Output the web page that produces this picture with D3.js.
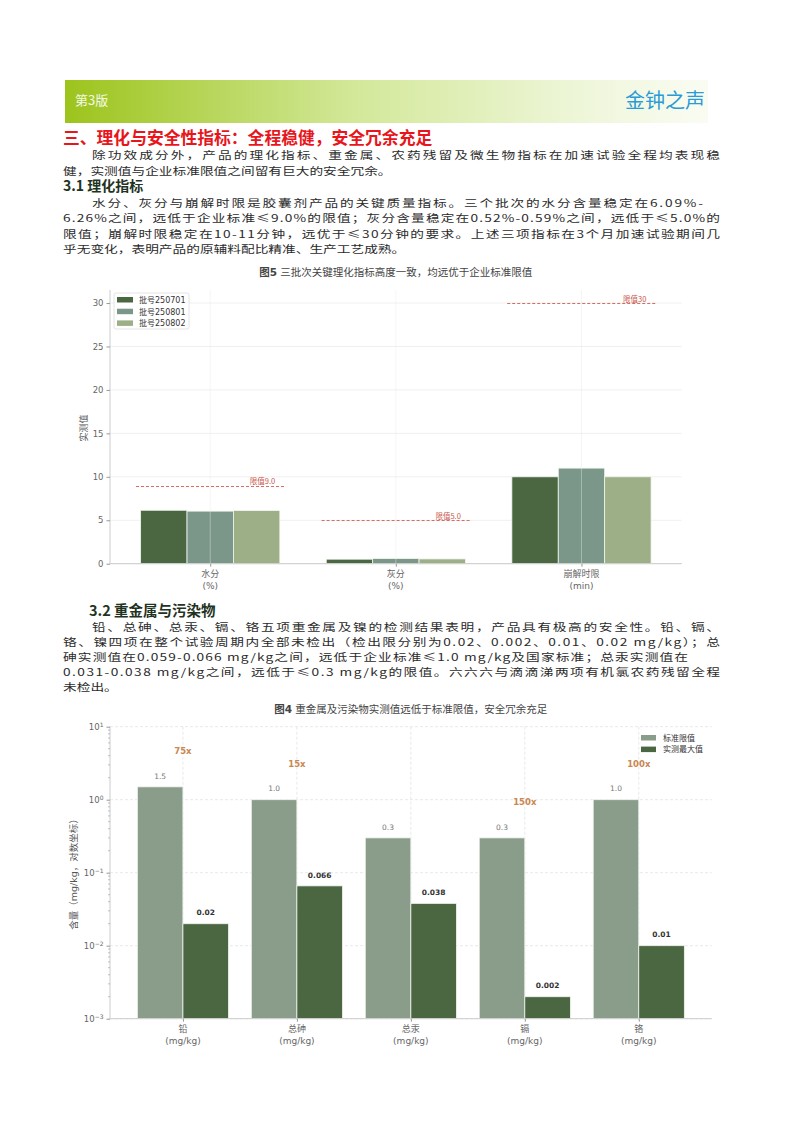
<!DOCTYPE html>
<html>
<head>
<meta charset="utf-8">
<script src="https://cdn.jsdelivr.net/npm/d3@7"></script>
<style>
  body { margin: 0; background: #fff; }
  svg text { font-family: "DejaVu Sans", "Noto Sans CJK SC", sans-serif; }
  .body-text { font-family: "Noto Sans CJK SC", sans-serif; font-size: 10.3px; fill: #2b2b2b; }
  .tick text { fill: #666; font-size: 8.5px; }
</style>
</head>
<body>
<div id="page"></div>
<script>
// chart 1 data (理化指标)
var batches = ["批号250701", "批号250801", "批号250802"];
var physCats = ["水分", "灰分", "崩解时限"];
var physUnits = ["(%)", "(%)", "(min)"];
var batch250701 = [6.15, 0.52, 10];
var batch250801 = [6.05, 0.59, 11];
var batch250802 = [6.12, 0.55, 10];
var physLimits = [9.0, 5.0, 30];
var physLimitLabels = ["限值9.0", "限值5.0", "限值30"];
var physTicks = [0, 5, 10, 15, 20, 25, 30];

// chart 2 data (重金属)
var metals = ["铅", "总砷", "总汞", "镉", "铬"];
var metalUnits = ["(mg/kg)", "(mg/kg)", "(mg/kg)", "(mg/kg)", "(mg/kg)"];
var stdLimit = [1.5, 1.0, 0.3, 0.3, 1.0];
var measuredMax = [0.02, 0.066, 0.038, 0.002, 0.01];
var stdLabels = ["1.5", "1.0", "0.3", "0.3", "1.0"];
var measLabels = ["0.02", "0.066", "0.038", "0.002", "0.01"];
var ratioLabels = ["75x", "15x", "", "150x", "100x"];
var logTicks = [1e-3, 1e-2, 1e-1, 1e0, 1e1];
var logExps = ["−3", "−2", "−1", "0", "1"];

var batchColors = ["#4a6741", "#7a978a", "#9caf86"];
var stdColor = "#8a9d8a";
var measColor = "#4a6741";

var svg = d3.select("#page").append("svg")
    .attr("width", 800)
    .attr("height", 1131);

/////////////// HEADER /////////////////////////
var defs = svg.append("defs");
var grad = defs.append("linearGradient").attr("id", "band");
grad.append("stop").attr("offset", "0%").attr("stop-color", "#9cc41c");
grad.append("stop").attr("offset", "45%").attr("stop-color", "#d3e899");
grad.append("stop").attr("offset", "80%").attr("stop-color", "#eef6d9");
grad.append("stop").attr("offset", "100%").attr("stop-color", "#fafcf3");

svg.append("rect")
    .attr("x", 65).attr("y", 80)
    .attr("width", 643).attr("height", 43)
    .attr("fill", "url(#band)");

svg.append("text")
    .attr("x", 75).attr("y", 105)
    .style("font-family", "'Noto Sans CJK SC'")
    .style("font-size", "13px")
    .attr("fill", "#f4f9e6")
    .text("第3版");

svg.append("text")
    .attr("x", 705).attr("y", 108)
    .attr("text-anchor", "end")
    .style("font-family", "'Noto Sans CJK SC'")
    .style("font-size", "20px")
    .attr("fill", "#2a9bd6")
    .text("金钟之声");

/////////////// BODY TEXT /////////////////////////
svg.append("text")
    .attr("x", 63).attr("y", 144)
    .style("font-family", "'Noto Sans CJK SC'")
    .style("font-size", "16.8px")
    .style("font-weight", "bold")
    .attr("fill", "#e8161c")
    .text("三、理化与安全性指标：全程稳健，安全冗余充足");

// [text, x, baseline, right end or null]
var lines = [
  ["除功效成分外，产品的理化指标、重金属、农药残留及微生物指标在加速试验全程均表现稳", 92, 159, 720],
  ["健，实测值与企业标准限值之间留有巨大的安全冗余。", 63, 174.5, null],
  ["水分、灰分与崩解时限是胶囊剂产品的关键质量指标。三个批次的水分含量稳定在6.09%-", 92, 206.5, 703],
  ["6.26%之间，远低于企业标准≤9.0%的限值；灰分含量稳定在0.52%-0.59%之间，远低于≤5.0%的", 63, 222, 720],
  ["限值；崩解时限稳定在10-11分钟，远优于≤30分钟的要求。上述三项指标在3个月加速试验期间几", 63, 237.5, 720],
  ["乎无变化，表明产品的原辅料配比精准、生产工艺成熟。", 63, 253, null],
  ["铅、总砷、总汞、镉、铬五项重金属及镍的检测结果表明，产品具有极高的安全性。铅、镉、", 92, 631, 720],
  ["铬、镍四项在整个试验周期内全部未检出（检出限分别为0.02、0.002、0.01、0.02 mg/kg）；总", 63, 646, 720],
  ["砷实测值在0.059-0.066 mg/kg之间，远低于企业标准≤1.0 mg/kg及国家标准；总汞实测值在", 63, 661, 688],
  ["0.031-0.038 mg/kg之间，远低于≤0.3 mg/kg的限值。六六六与滴滴涕两项有机氯农药残留全程", 63, 676, 720],
  ["未检出。", 63, 691, null]
];

var sx = 1.33;
lines.forEach(function(l) {
  var t = svg.append("text")
      .attr("class", "body-text")
      .attr("transform", `translate(${l[1]},${l[2]}) scale(${sx},1)`)
      .attr("x", 0).attr("y", 0)
      .text(l[0]);
  if (l[3]) {
    t.attr("textLength", (l[3] - l[1]) / sx).attr("lengthAdjust", "spacing");
  }
});

svg.append("text")
    .attr("x", 63).attr("y", 191)
    .style("font-family", "'Noto Sans CJK SC'")
    .style("font-size", "14px")
    .style("font-weight", "bold")
    .attr("fill", "#1f331f")
    .text("3.1 理化指标");

svg.append("text")
    .attr("x", 89).attr("y", 616)
    .style("font-family", "'Noto Sans CJK SC'")
    .style("font-size", "14.5px")
    .style("font-weight", "bold")
    .attr("fill", "#1f331f")
    .text("3.2 重金属与污染物");

/////////////// CHART 1 /////////////////////////
var c1 = svg.append("g");
var x1 = d3.scaleLinear().domain([-0.54, 2.54]).range([110, 681.7]);
var y1 = d3.scaleLinear().domain([0, 31.5]).range([563.7, 290]);

// grid
c1.append("g").selectAll("line").data(physTicks).enter().append("line")
    .attr("x1", 110).attr("x2", 681.7)
    .attr("y1", d => y1(d)).attr("y2", d => y1(d))
    .attr("stroke", "#ececec").attr("stroke-width", 0.8);

var series1 = [batch250701, batch250801, batch250802];
series1.forEach(function(vals, j) {
  var off = (j - 1) * 0.25;
  c1.append("g").selectAll("rect").data(vals).enter().append("rect")
      .attr("x", (d, i) => x1(i + off - 0.125))
      .attr("width", (d, i) => x1(i + off + 0.125) - x1(i + off - 0.125))
      .attr("y", d => y1(d))
      .attr("height", d => y1(0) - y1(d))
      .attr("fill", batchColors[j])
      .attr("stroke", "#f2f5f0").attr("stroke-width", 0.8);
});

// vertical grid over bars
c1.append("g").selectAll("line").data(physCats).enter().append("line")
    .attr("x1", (d, i) => x1(i)).attr("x2", (d, i) => x1(i))
    .attr("y1", 290).attr("y2", 563.7)
    .attr("stroke", "#e6ebe6").attr("stroke-opacity", 0.55).attr("stroke-width", 0.8);

// limit lines (snapped to pixel rows so the dashes stay crisp)
c1.append("g").selectAll("line").data(physLimits).enter().append("line")
    .attr("x1", (d, i) => x1(i - 0.4)).attr("x2", (d, i) => x1(i + 0.4))
    .attr("y1", d => Math.round(y1(d)) + 0.5).attr("y2", d => Math.round(y1(d)) + 0.5)
    .attr("stroke", "#db6a5f").attr("stroke-width", 1)
    .attr("stroke-dasharray", "3,2");

c1.append("g").selectAll("text").data(physLimits).enter().append("text")
    .attr("x", (d, i) => x1(i + 0.35))
    .attr("y", d => y1(d) - 1.5)
    .attr("text-anchor", "end")
    .style("font-family", "'Noto Sans CJK SC'")
    .style("font-size", "7.5px")
    .attr("fill", "#c9584c")
    .text((d, i) => physLimitLabels[i]);

// axes
var yAxis1 = c1.append("g")
    .attr("transform", "translate(110,0)")
    .call(d3.axisLeft(y1).tickValues(physTicks).tickSize(3.5).tickPadding(3));
var xAxis1 = c1.append("g")
    .attr("transform", "translate(0,563.7)")
    .call(d3.axisBottom(x1).tickValues([0, 1, 2]).tickSize(3).tickFormat(""));
[yAxis1, xAxis1].forEach(function(a) {
  a.select(".domain").attr("stroke", "#cccccc");
  a.selectAll(".tick line").attr("stroke", "#999");
});
yAxis1.select(".domain").attr("d", "M0,290V563.7");
xAxis1.select(".domain").attr("d", "M110,0H681.7");

c1.append("g").selectAll("text").data(physCats).enter().append("text")
    .attr("x", (d, i) => x1(i))
    .attr("y", 577)
    .attr("text-anchor", "middle")
    .style("font-size", "9px")
    .attr("fill", "#666")
    .each(function(d, i) {
      var t = d3.select(this);
      t.append("tspan").attr("x", x1(i)).text(d);
      t.append("tspan").attr("x", x1(i)).attr("dy", 12).text(physUnits[i]);
    });

c1.append("text")
    .attr("transform", "translate(87,428) rotate(-90)")
    .attr("text-anchor", "middle")
    .style("font-size", "9px")
    .attr("fill", "#555")
    .text("实测值");

c1.append("text")
    .attr("x", 395.8).attr("y", 276)
    .attr("text-anchor", "middle")
    .style("font-size", "10.5px")
    .attr("fill", "#444")
    .call(function(t) {
      t.append("tspan").style("font-weight", "bold").text("图5");
      t.append("tspan").text("  三批次关键理化指标高度一致，均远优于企业标准限值");
    });

// legend
var leg1 = c1.append("g");
leg1.append("rect")
    .attr("x", 114).attr("y", 293).attr("width", 75).attr("height", 36)
    .attr("rx", 2)
    .attr("fill", "#fff").attr("fill-opacity", 0.85)
    .attr("stroke", "#dddddd").attr("stroke-width", 0.8);
batches.forEach(function(b, j) {
  leg1.append("rect")
      .attr("x", 117).attr("y", 297 + j * 11.7)
      .attr("width", 16).attr("height", 5.5)
      .attr("fill", batchColors[j]);
  leg1.append("text")
      .attr("x", 139).attr("y", 302.8 + j * 11.7)
      .style("font-size", "8px")
      .attr("fill", "#333")
      .text(b);
});

/////////////// CHART 2 /////////////////////////
var c2 = svg.append("g");
var x2 = d3.scaleLinear().domain([-0.64, 4.64]).range([110, 711.7]);
var y2 = d3.scaleLog().domain([1e-3, 10]).range([1018.7, 726.7]);

c2.append("g").selectAll("line").data(logTicks).enter().append("line")
    .attr("x1", 110).attr("x2", 711.7)
    .attr("y1", d => y2(d)).attr("y2", d => y2(d))
    .attr("stroke", "#e2e2e2").attr("stroke-width", 0.8)
    .attr("stroke-dasharray", "3,2");
c2.append("g").selectAll("line").data(metals).enter().append("line")
    .attr("x1", (d, i) => x2(i)).attr("x2", (d, i) => x2(i))
    .attr("y1", 726.7).attr("y2", 1018.7)
    .attr("stroke", "#e2e2e2").attr("stroke-width", 0.8)
    .attr("stroke-dasharray", "3,2");

c2.append("g").selectAll("rect").data(stdLimit).enter().append("rect")
    .attr("x", (d, i) => x2(i - 0.4))
    .attr("width", (d, i) => x2(i) - x2(i - 0.4))
    .attr("y", d => y2(d))
    .attr("height", d => y2(1e-3) - y2(d))
    .attr("fill", stdColor)
    .attr("stroke", "#f2f5f0").attr("stroke-width", 0.8);

c2.append("g").selectAll("rect").data(measuredMax).enter().append("rect")
    .attr("x", (d, i) => x2(i))
    .attr("width", (d, i) => x2(i + 0.4) - x2(i))
    .attr("y", d => y2(d))
    .attr("height", d => y2(1e-3) - y2(d))
    .attr("fill", measColor)
    .attr("stroke", "#f2f5f0").attr("stroke-width", 0.8);

// value labels
c2.append("g").selectAll("text").data(stdLimit).enter().append("text")
    .attr("x", (d, i) => x2(i - 0.2))
    .attr("y", d => y2(d * 1.3))
    .attr("text-anchor", "middle")
    .style("font-size", "7.5px")
    .attr("fill", "#777")
    .text((d, i) => stdLabels[i]);

c2.append("g").selectAll("text").data(measuredMax).enter().append("text")
    .attr("x", (d, i) => x2(i + 0.2))
    .attr("y", d => y2(d * 1.3))
    .attr("text-anchor", "middle")
    .style("font-size", "7.5px")
    .style("font-weight", "bold")
    .attr("fill", "#333")
    .text((d, i) => measLabels[i]);

c2.append("g").selectAll("text").data(stdLimit).enter().append("text")
    .attr("x", (d, i) => x2(i))
    .attr("y", d => y2(d * 2.8))
    .attr("text-anchor", "middle")
    .style("font-size", "8.5px")
    .style("font-weight", "bold")
    .attr("fill", "#c98752")
    .text((d, i) => ratioLabels[i]);

// axes
var yAxis2 = c2.append("g")
    .attr("transform", "translate(110,0)")
    .call(d3.axisLeft(y2).tickValues(logTicks).tickSize(3.5).tickPadding(3).tickFormat(""));
yAxis2.selectAll(".tick").each(function(d, i) {
  var t = d3.select(this).append("text")
      .attr("x", -6.5).attr("dy", "0.32em")
      .attr("text-anchor", "end")
      .attr("fill", "#666")
      .style("font-size", "8.5px");
  t.append("tspan").text("10");
  t.append("tspan").attr("dy", "-0.5em").style("font-size", "6px").text(logExps[i]);
});
var minor = [];
logTicks.slice(0, 4).forEach(function(d) {
  for (var k = 2; k <= 9; k++) minor.push(d * k);
});
c2.append("g").selectAll("line").data(minor).enter().append("line")
    .attr("x1", 108).attr("x2", 110)
    .attr("y1", d => y2(d)).attr("y2", d => y2(d))
    .attr("stroke", "#999").attr("stroke-width", 0.6);

var xAxis2 = c2.append("g")
    .attr("transform", "translate(0,1018.7)")
    .call(d3.axisBottom(x2).tickValues([0, 1, 2, 3, 4]).tickSize(3).tickFormat(""));
[yAxis2, xAxis2].forEach(function(a) {
  a.select(".domain").attr("stroke", "#cccccc");
  a.selectAll(".tick line").attr("stroke", "#999");
});
yAxis2.select(".domain").attr("d", "M0,726.7V1018.7");
xAxis2.select(".domain").attr("d", "M110,0H711.7");

c2.append("g").selectAll("text").data(metals).enter().append("text")
    .attr("x", (d, i) => x2(i))
    .attr("y", 1032)
    .attr("text-anchor", "middle")
    .style("font-size", "9px")
    .attr("fill", "#666")
    .each(function(d, i) {
      var t = d3.select(this);
      t.append("tspan").attr("x", x2(i)).text(d);
      t.append("tspan").attr("x", x2(i)).attr("dy", 12).text(metalUnits[i]);
    });

c2.append("text")
    .attr("transform", "translate(77,872) rotate(-90)")
    .attr("text-anchor", "middle")
    .style("font-size", "9.5px")
    .attr("fill", "#555")
    .text("含量（mg/kg，对数坐标）");

c2.append("text")
    .attr("x", 410.8).attr("y", 713)
    .attr("text-anchor", "middle")
    .style("font-size", "10.5px")
    .attr("fill", "#444")
    .call(function(t) {
      t.append("tspan").style("font-weight", "bold").text("图4");
      t.append("tspan").text("  重金属及污染物实测值远低于标准限值，安全冗余充足");
    });

var leg2 = c2.append("g");
["标准限值", "实测最大值"].forEach(function(name, j) {
  leg2.append("rect")
      .attr("x", 641).attr("y", 735 + j * 11.6)
      .attr("width", 15).attr("height", 5.5)
      .attr("fill", j === 0 ? stdColor : measColor);
  leg2.append("text")
      .attr("x", 663).attr("y", 740.8 + j * 11.6)
      .style("font-size", "8px")
      .attr("fill", "#333")
      .text(name);
});
</script>
</body>
</html>
